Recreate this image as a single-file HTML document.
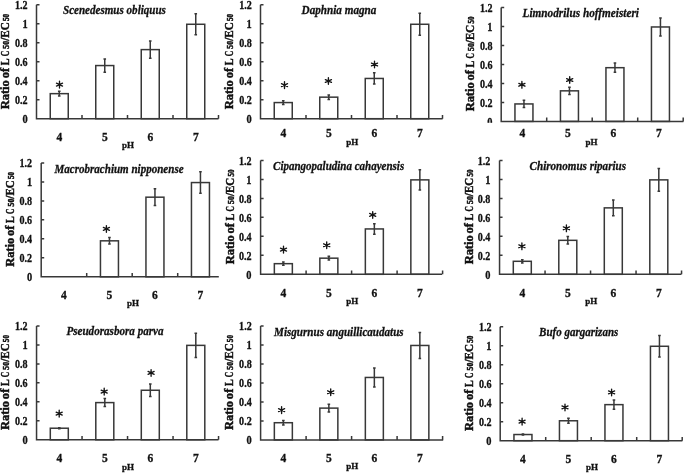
<!DOCTYPE html>
<html><head><meta charset="utf-8"><style>
html,body{margin:0;padding:0;background:#fff;overflow:hidden;}
svg{display:block;}
svg{will-change:transform;}
text{font-family:"Liberation Serif",serif;font-weight:bold;fill:#111;stroke:#111;stroke-width:0.3px;}
.tl{font-size:11.8px;}
.cl{font-size:11.5px;}
.ph{font-size:9px;}
.tt{font-size:12.5px;font-style:italic;}
.yl{font-size:11.5px;stroke-width:0.45px;}
.sub{font-size:7.2px;stroke-width:0.45px;}
</style></head><body>
<svg width="685" height="474" viewBox="0 0 685 474">
<rect width="685" height="474" fill="#fff"/>
<text x="22.40" y="123.10" class="tl" textLength="5.2" lengthAdjust="spacingAndGlyphs">0</text><text x="15.00" y="104.12" class="tl" textLength="12.6" lengthAdjust="spacingAndGlyphs">0.2</text><text x="15.00" y="85.14" class="tl" textLength="12.6" lengthAdjust="spacingAndGlyphs">0.4</text><text x="15.00" y="66.16" class="tl" textLength="12.6" lengthAdjust="spacingAndGlyphs">0.6</text><text x="15.00" y="47.18" class="tl" textLength="12.6" lengthAdjust="spacingAndGlyphs">0.8</text><text x="22.40" y="28.20" class="tl" textLength="5.2" lengthAdjust="spacingAndGlyphs">1</text><text x="15.00" y="9.22" class="tl" textLength="12.6" lengthAdjust="spacingAndGlyphs">1.2</text><rect x="50.25" y="93.65" width="18.0" height="25.05" fill="#fff" stroke="#383838" stroke-width="1.5"/><path d="M59.25 91.27L59.25 96.02M57.95 91.27L60.55 91.27M57.95 96.02L60.55 96.02" stroke="#383838" stroke-width="1.5" fill="none"/><rect x="95.75" y="65.56" width="18.0" height="53.14" fill="#fff" stroke="#383838" stroke-width="1.5"/><path d="M104.75 58.91L104.75 72.20M103.45 58.91L106.05 58.91M103.45 72.20L106.05 72.20" stroke="#383838" stroke-width="1.5" fill="none"/><rect x="141.25" y="49.61" width="18.0" height="69.09" fill="#fff" stroke="#383838" stroke-width="1.5"/><path d="M150.25 41.07L150.25 58.15M148.95 41.07L151.55 41.07M148.95 58.15L151.55 58.15" stroke="#383838" stroke-width="1.5" fill="none"/><rect x="186.75" y="24.27" width="18.0" height="94.43" fill="#fff" stroke="#383838" stroke-width="1.5"/><path d="M195.75 13.84L195.75 34.71M194.45 13.84L197.05 13.84M194.45 34.71L197.05 34.71" stroke="#383838" stroke-width="1.5" fill="none"/><path d="M59.50 81.25L59.50 87.95M56.46 83.18L62.54 86.02M56.46 86.02L62.54 83.18" stroke="#151515" stroke-width="1.35" fill="none" stroke-linecap="round"/><circle cx="59.5" cy="84.6" r="1.2" fill="#151515"/><path d="M36.5 4.82L36.5 118.7L218.5 118.7M36.5 99.72L39.5 99.72M36.5 80.74L39.5 80.74M36.5 61.76L39.5 61.76M36.5 42.78L39.5 42.78M36.5 23.80L39.5 23.80M36.5 4.82L39.5 4.82M82.00 118.7L82.00 114.9M127.50 118.7L127.50 114.9M173.00 118.7L173.00 114.9M218.50 118.7L218.50 114.9" stroke="#383838" stroke-width="1.5" fill="none"/><text x="59.25" y="140.5" class="cl" text-anchor="middle">4</text><text x="104.75" y="140.5" class="cl" text-anchor="middle">5</text><text x="150.25" y="140.5" class="cl" text-anchor="middle">6</text><text x="195.75" y="140.5" class="cl" text-anchor="middle">7</text><text x="122" y="147.5" class="ph" textLength="12" lengthAdjust="spacingAndGlyphs">pH</text><text x="63" y="14.3" class="tt" textLength="102.9" lengthAdjust="spacingAndGlyphs">Scenedesmus obliquus</text><g transform="translate(9 109.30) rotate(-90)"><text x="0.00" y="0" class="yl" textLength="29.06" lengthAdjust="spacingAndGlyphs">Ratio</text><text x="30.96" y="0" class="yl" textLength="10.52" lengthAdjust="spacingAndGlyphs">of</text><text x="44.09" y="0" class="yl" textLength="6.81" lengthAdjust="spacingAndGlyphs">L</text><text x="53.01" y="0" class="yl" textLength="5.51" lengthAdjust="spacingAndGlyphs">C</text><text x="60.63" y="0" class="sub" textLength="7.82" lengthAdjust="spacingAndGlyphs">50</text><text x="68.54" y="0" class="yl" textLength="18.54" lengthAdjust="spacingAndGlyphs">/EC</text><text x="88.28" y="0" class="sub" textLength="7.22" lengthAdjust="spacingAndGlyphs">50</text></g><text x="246.60" y="123.10" class="tl" textLength="5.2" lengthAdjust="spacingAndGlyphs">0</text><text x="239.20" y="104.12" class="tl" textLength="12.6" lengthAdjust="spacingAndGlyphs">0.2</text><text x="239.20" y="85.14" class="tl" textLength="12.6" lengthAdjust="spacingAndGlyphs">0.4</text><text x="239.20" y="66.16" class="tl" textLength="12.6" lengthAdjust="spacingAndGlyphs">0.6</text><text x="239.20" y="47.18" class="tl" textLength="12.6" lengthAdjust="spacingAndGlyphs">0.8</text><text x="246.60" y="28.20" class="tl" textLength="5.2" lengthAdjust="spacingAndGlyphs">1</text><text x="239.20" y="9.22" class="tl" textLength="12.6" lengthAdjust="spacingAndGlyphs">1.2</text><rect x="274.25" y="102.57" width="18.0" height="16.13" fill="#fff" stroke="#383838" stroke-width="1.5"/><path d="M283.25 100.67L283.25 104.47M281.95 100.67L284.55 100.67M281.95 104.47L284.55 104.47" stroke="#383838" stroke-width="1.5" fill="none"/><rect x="319.75" y="97.16" width="18.0" height="21.54" fill="#fff" stroke="#383838" stroke-width="1.5"/><path d="M328.75 94.88L328.75 99.44M327.45 94.88L330.05 94.88M327.45 99.44L330.05 99.44" stroke="#383838" stroke-width="1.5" fill="none"/><rect x="365.25" y="78.46" width="18.0" height="40.24" fill="#fff" stroke="#383838" stroke-width="1.5"/><path d="M374.25 72.86L374.25 84.06M372.95 72.86L375.55 72.86M372.95 84.06L375.55 84.06" stroke="#383838" stroke-width="1.5" fill="none"/><rect x="410.75" y="24.27" width="18.0" height="94.43" fill="#fff" stroke="#383838" stroke-width="1.5"/><path d="M419.75 13.36L419.75 35.19M418.45 13.36L421.05 13.36M418.45 35.19L421.05 35.19" stroke="#383838" stroke-width="1.5" fill="none"/><path d="M284.50 81.75L284.50 88.45M281.46 83.68L287.54 86.52M281.46 86.52L287.54 83.68" stroke="#151515" stroke-width="1.35" fill="none" stroke-linecap="round"/><circle cx="284.5" cy="85.1" r="1.2" fill="#151515"/><path d="M328.40 77.65L328.40 84.35M325.36 79.58L331.44 82.42M325.36 82.42L331.44 79.58" stroke="#151515" stroke-width="1.35" fill="none" stroke-linecap="round"/><circle cx="328.4" cy="81.0" r="1.2" fill="#151515"/><path d="M374.50 61.15L374.50 67.85M371.46 63.08L377.54 65.92M371.46 65.92L377.54 63.08" stroke="#151515" stroke-width="1.35" fill="none" stroke-linecap="round"/><circle cx="374.5" cy="64.5" r="1.2" fill="#151515"/><path d="M260.5 4.82L260.5 118.7L442.6 118.7M260.5 99.72L263.5 99.72M260.5 80.74L263.5 80.74M260.5 61.76L263.5 61.76M260.5 42.78L263.5 42.78M260.5 23.80L263.5 23.80M260.5 4.82L263.5 4.82M306.00 118.7L306.00 114.9M351.50 118.7L351.50 114.9M397.00 118.7L397.00 114.9M442.50 118.7L442.50 114.9" stroke="#383838" stroke-width="1.5" fill="none"/><text x="283.25" y="137" class="cl" text-anchor="middle">4</text><text x="328.75" y="137" class="cl" text-anchor="middle">5</text><text x="374.25" y="137" class="cl" text-anchor="middle">6</text><text x="419.75" y="137" class="cl" text-anchor="middle">7</text><text x="346.2" y="145.4" class="ph" textLength="12" lengthAdjust="spacingAndGlyphs">pH</text><text x="301.6" y="14.3" class="tt" textLength="74.8" lengthAdjust="spacingAndGlyphs">Daphnia magna</text><g transform="translate(233 109.30) rotate(-90)"><text x="0.00" y="0" class="yl" textLength="29.06" lengthAdjust="spacingAndGlyphs">Ratio</text><text x="30.96" y="0" class="yl" textLength="10.52" lengthAdjust="spacingAndGlyphs">of</text><text x="44.09" y="0" class="yl" textLength="6.81" lengthAdjust="spacingAndGlyphs">L</text><text x="53.01" y="0" class="yl" textLength="5.51" lengthAdjust="spacingAndGlyphs">C</text><text x="60.63" y="0" class="sub" textLength="7.82" lengthAdjust="spacingAndGlyphs">50</text><text x="68.54" y="0" class="yl" textLength="18.54" lengthAdjust="spacingAndGlyphs">/EC</text><text x="88.28" y="0" class="sub" textLength="7.22" lengthAdjust="spacingAndGlyphs">50</text></g><text x="487.30" y="125.80" class="tl" textLength="5.2" lengthAdjust="spacingAndGlyphs">0</text><text x="479.90" y="106.82" class="tl" textLength="12.6" lengthAdjust="spacingAndGlyphs">0.2</text><text x="479.90" y="87.84" class="tl" textLength="12.6" lengthAdjust="spacingAndGlyphs">0.4</text><text x="479.90" y="68.86" class="tl" textLength="12.6" lengthAdjust="spacingAndGlyphs">0.6</text><text x="479.90" y="49.88" class="tl" textLength="12.6" lengthAdjust="spacingAndGlyphs">0.8</text><text x="487.30" y="30.90" class="tl" textLength="5.2" lengthAdjust="spacingAndGlyphs">1</text><text x="479.90" y="11.92" class="tl" textLength="12.6" lengthAdjust="spacingAndGlyphs">1.2</text><rect x="514.95" y="103.94" width="18.0" height="17.46" fill="#fff" stroke="#383838" stroke-width="1.5"/><path d="M523.95 100.33L523.95 107.54M522.65 100.33L525.25 100.33M522.65 107.54L525.25 107.54" stroke="#383838" stroke-width="1.5" fill="none"/><rect x="560.45" y="90.84" width="18.0" height="30.56" fill="#fff" stroke="#383838" stroke-width="1.5"/><path d="M569.45 87.14L569.45 94.54M568.15 87.14L570.75 87.14M568.15 94.54L570.75 94.54" stroke="#383838" stroke-width="1.5" fill="none"/><rect x="605.95" y="67.69" width="18.0" height="53.71" fill="#fff" stroke="#383838" stroke-width="1.5"/><path d="M614.95 63.04L614.95 72.34M613.65 63.04L616.25 63.04M613.65 72.34L616.25 72.34" stroke="#383838" stroke-width="1.5" fill="none"/><rect x="651.45" y="26.97" width="18.0" height="94.43" fill="#fff" stroke="#383838" stroke-width="1.5"/><path d="M660.45 18.05L660.45 35.90M659.15 18.05L661.75 18.05M659.15 35.90L661.75 35.90" stroke="#383838" stroke-width="1.5" fill="none"/><path d="M521.90 81.45L521.90 88.15M518.86 83.38L524.94 86.22M518.86 86.22L524.94 83.38" stroke="#151515" stroke-width="1.35" fill="none" stroke-linecap="round"/><circle cx="521.9" cy="84.8" r="1.2" fill="#151515"/><path d="M569.70 76.65L569.70 83.35M566.66 78.58L572.74 81.42M566.66 81.42L572.74 78.58" stroke="#151515" stroke-width="1.35" fill="none" stroke-linecap="round"/><circle cx="569.7" cy="80.0" r="1.2" fill="#151515"/><path d="M501.2 7.52L501.2 121.4L683.4 121.4M501.2 102.42L504.2 102.42M501.2 83.44L504.2 83.44M501.2 64.46L504.2 64.46M501.2 45.48L504.2 45.48M501.2 26.50L504.2 26.50M501.2 7.52L504.2 7.52M546.70 121.4L546.70 117.60000000000001M592.20 121.4L592.20 117.60000000000001M637.70 121.4L637.70 117.60000000000001M683.20 121.4L683.20 117.60000000000001" stroke="#383838" stroke-width="1.5" fill="none"/><text x="522.45" y="137" class="cl" text-anchor="middle">4</text><text x="567.95" y="137" class="cl" text-anchor="middle">5</text><text x="613.45" y="137" class="cl" text-anchor="middle">6</text><text x="658.95" y="137" class="cl" text-anchor="middle">7</text><text x="585.4" y="144.8" class="ph" textLength="12" lengthAdjust="spacingAndGlyphs">pH</text><text x="522.6" y="17.0" class="tt" textLength="116.4" lengthAdjust="spacingAndGlyphs">Limnodrilus hoffmeisteri</text><g transform="translate(474 111.30) rotate(-90)"><text x="0.00" y="0" class="yl" textLength="28.91" lengthAdjust="spacingAndGlyphs">Ratio</text><text x="30.80" y="0" class="yl" textLength="10.47" lengthAdjust="spacingAndGlyphs">of</text><text x="43.86" y="0" class="yl" textLength="6.78" lengthAdjust="spacingAndGlyphs">L</text><text x="52.73" y="0" class="yl" textLength="5.48" lengthAdjust="spacingAndGlyphs">C</text><text x="60.31" y="0" class="sub" textLength="7.78" lengthAdjust="spacingAndGlyphs">50</text><text x="68.18" y="0" class="yl" textLength="18.44" lengthAdjust="spacingAndGlyphs">/EC</text><text x="87.82" y="0" class="sub" textLength="7.18" lengthAdjust="spacingAndGlyphs">50</text></g><rect x="478" y="122.8" width="21" height="6" fill="#fff"/><text x="26.90" y="281.20" class="tl" textLength="5.2" lengthAdjust="spacingAndGlyphs">0</text><text x="19.50" y="262.22" class="tl" textLength="12.6" lengthAdjust="spacingAndGlyphs">0.2</text><text x="19.50" y="243.24" class="tl" textLength="12.6" lengthAdjust="spacingAndGlyphs">0.4</text><text x="19.50" y="224.26" class="tl" textLength="12.6" lengthAdjust="spacingAndGlyphs">0.6</text><text x="19.50" y="205.28" class="tl" textLength="12.6" lengthAdjust="spacingAndGlyphs">0.8</text><text x="26.90" y="186.30" class="tl" textLength="5.2" lengthAdjust="spacingAndGlyphs">1</text><text x="19.50" y="167.32" class="tl" textLength="12.6" lengthAdjust="spacingAndGlyphs">1.2</text><rect x="100.45" y="240.83" width="18.0" height="35.97" fill="#fff" stroke="#383838" stroke-width="1.5"/><path d="M109.45 237.61L109.45 244.06M108.15 237.61L110.75 237.61M108.15 244.06L110.75 244.06" stroke="#383838" stroke-width="1.5" fill="none"/><rect x="145.95" y="197.18" width="18.0" height="79.62" fill="#fff" stroke="#383838" stroke-width="1.5"/><path d="M154.95 188.83L154.95 205.53M153.65 188.83L156.25 188.83M153.65 205.53L156.25 205.53" stroke="#383838" stroke-width="1.5" fill="none"/><rect x="191.45" y="182.56" width="18.0" height="94.24" fill="#fff" stroke="#383838" stroke-width="1.5"/><path d="M200.45 171.84L200.45 193.29M199.15 171.84L201.75 171.84M199.15 193.29L201.75 193.29" stroke="#383838" stroke-width="1.5" fill="none"/><path d="M106.40 225.55L106.40 232.25M103.36 227.48L109.44 230.32M103.36 230.32L109.44 227.48" stroke="#151515" stroke-width="1.35" fill="none" stroke-linecap="round"/><circle cx="106.4" cy="228.9" r="1.2" fill="#151515"/><path d="M41.2 162.92L41.2 276.8L218.8 276.8M41.2 257.82L44.2 257.82M41.2 238.84L44.2 238.84M41.2 219.86L44.2 219.86M41.2 200.88L44.2 200.88M41.2 181.90L44.2 181.90M41.2 162.92L44.2 162.92M86.70 276.8L86.70 273.0M132.20 276.8L132.20 273.0M177.70 276.8L177.70 273.0" stroke="#383838" stroke-width="1.5" fill="none"/><text x="63.95" y="298.6" class="cl" text-anchor="middle">4</text><text x="109.45" y="298.6" class="cl" text-anchor="middle">5</text><text x="154.95" y="298.6" class="cl" text-anchor="middle">6</text><text x="200.45" y="298.6" class="cl" text-anchor="middle">7</text><text x="126.9" y="306" class="ph" textLength="12" lengthAdjust="spacingAndGlyphs">pH</text><text x="54.5" y="172.8" class="tt" textLength="129.1" lengthAdjust="spacingAndGlyphs">Macrobrachium nipponense</text><g transform="translate(13.8 266.80) rotate(-90)"><text x="0.00" y="0" class="yl" textLength="28.91" lengthAdjust="spacingAndGlyphs">Ratio</text><text x="30.80" y="0" class="yl" textLength="10.47" lengthAdjust="spacingAndGlyphs">of</text><text x="43.86" y="0" class="yl" textLength="6.78" lengthAdjust="spacingAndGlyphs">L</text><text x="52.73" y="0" class="yl" textLength="5.48" lengthAdjust="spacingAndGlyphs">C</text><text x="60.31" y="0" class="sub" textLength="7.78" lengthAdjust="spacingAndGlyphs">50</text><text x="68.18" y="0" class="yl" textLength="18.44" lengthAdjust="spacingAndGlyphs">/EC</text><text x="87.82" y="0" class="sub" textLength="7.18" lengthAdjust="spacingAndGlyphs">50</text></g><text x="246.30" y="278.70" class="tl" textLength="5.2" lengthAdjust="spacingAndGlyphs">0</text><text x="238.90" y="259.72" class="tl" textLength="12.6" lengthAdjust="spacingAndGlyphs">0.2</text><text x="238.90" y="240.74" class="tl" textLength="12.6" lengthAdjust="spacingAndGlyphs">0.4</text><text x="238.90" y="221.76" class="tl" textLength="12.6" lengthAdjust="spacingAndGlyphs">0.6</text><text x="238.90" y="202.78" class="tl" textLength="12.6" lengthAdjust="spacingAndGlyphs">0.8</text><text x="246.30" y="183.80" class="tl" textLength="5.2" lengthAdjust="spacingAndGlyphs">1</text><text x="238.90" y="164.82" class="tl" textLength="12.6" lengthAdjust="spacingAndGlyphs">1.2</text><rect x="274.35" y="263.67" width="18.0" height="10.63" fill="#fff" stroke="#383838" stroke-width="1.5"/><path d="M283.35 262.06L283.35 265.28M282.05 262.06L284.65 262.06M282.05 265.28L284.65 265.28" stroke="#383838" stroke-width="1.5" fill="none"/><rect x="319.85" y="258.17" width="18.0" height="16.13" fill="#fff" stroke="#383838" stroke-width="1.5"/><path d="M328.85 256.36L328.85 259.97M327.55 256.36L330.15 256.36M327.55 259.97L330.15 259.97" stroke="#383838" stroke-width="1.5" fill="none"/><rect x="365.35" y="228.94" width="18.0" height="45.36" fill="#fff" stroke="#383838" stroke-width="1.5"/><path d="M374.35 223.72L374.35 234.16M373.05 223.72L375.65 223.72M373.05 234.16L375.65 234.16" stroke="#383838" stroke-width="1.5" fill="none"/><rect x="410.85" y="179.87" width="18.0" height="94.43" fill="#fff" stroke="#383838" stroke-width="1.5"/><path d="M419.85 169.63L419.85 190.12M418.55 169.63L421.15 169.63M418.55 190.12L421.15 190.12" stroke="#383838" stroke-width="1.5" fill="none"/><path d="M283.50 246.25L283.50 252.95M280.46 248.18L286.54 251.02M280.46 251.02L286.54 248.18" stroke="#151515" stroke-width="1.35" fill="none" stroke-linecap="round"/><circle cx="283.5" cy="249.6" r="1.2" fill="#151515"/><path d="M326.70 241.85L326.70 248.55M323.66 243.78L329.74 246.62M323.66 246.62L329.74 243.78" stroke="#151515" stroke-width="1.35" fill="none" stroke-linecap="round"/><circle cx="326.7" cy="245.2" r="1.2" fill="#151515"/><path d="M372.70 211.55L372.70 218.25M369.66 213.48L375.74 216.32M369.66 216.32L375.74 213.48" stroke="#151515" stroke-width="1.35" fill="none" stroke-linecap="round"/><circle cx="372.7" cy="214.9" r="1.2" fill="#151515"/><path d="M260.6 160.42L260.6 274.3L442.1 274.3M260.6 255.32L263.6 255.32M260.6 236.34L263.6 236.34M260.6 217.36L263.6 217.36M260.6 198.38L263.6 198.38M260.6 179.40L263.6 179.40M260.6 160.42L263.6 160.42M306.10 274.3L306.10 270.5M351.60 274.3L351.60 270.5M397.10 274.3L397.10 270.5M442.60 274.3L442.60 270.5" stroke="#383838" stroke-width="1.5" fill="none"/><text x="283.35" y="296.6" class="cl" text-anchor="middle">4</text><text x="328.85" y="296.6" class="cl" text-anchor="middle">5</text><text x="374.35" y="296.6" class="cl" text-anchor="middle">6</text><text x="419.85" y="296.6" class="cl" text-anchor="middle">7</text><text x="346.2" y="303.7" class="ph" textLength="12" lengthAdjust="spacingAndGlyphs">pH</text><text x="273.1" y="169.7" class="tt" textLength="131.1" lengthAdjust="spacingAndGlyphs">Cipangopaludina cahayensis</text><g transform="translate(233.5 264.20) rotate(-90)"><text x="0.00" y="0" class="yl" textLength="28.88" lengthAdjust="spacingAndGlyphs">Ratio</text><text x="30.77" y="0" class="yl" textLength="10.46" lengthAdjust="spacingAndGlyphs">of</text><text x="43.82" y="0" class="yl" textLength="6.77" lengthAdjust="spacingAndGlyphs">L</text><text x="52.68" y="0" class="yl" textLength="5.48" lengthAdjust="spacingAndGlyphs">C</text><text x="60.25" y="0" class="sub" textLength="7.77" lengthAdjust="spacingAndGlyphs">50</text><text x="68.11" y="0" class="yl" textLength="18.42" lengthAdjust="spacingAndGlyphs">/EC</text><text x="87.73" y="0" class="sub" textLength="7.17" lengthAdjust="spacingAndGlyphs">50</text></g><text x="485.20" y="278.70" class="tl" textLength="5.2" lengthAdjust="spacingAndGlyphs">0</text><text x="477.80" y="259.72" class="tl" textLength="12.6" lengthAdjust="spacingAndGlyphs">0.2</text><text x="477.80" y="240.74" class="tl" textLength="12.6" lengthAdjust="spacingAndGlyphs">0.4</text><text x="477.80" y="221.76" class="tl" textLength="12.6" lengthAdjust="spacingAndGlyphs">0.6</text><text x="477.80" y="202.78" class="tl" textLength="12.6" lengthAdjust="spacingAndGlyphs">0.8</text><text x="485.20" y="183.80" class="tl" textLength="5.2" lengthAdjust="spacingAndGlyphs">1</text><text x="477.80" y="164.82" class="tl" textLength="12.6" lengthAdjust="spacingAndGlyphs">1.2</text><rect x="513.30" y="261.30" width="18.0" height="13.00" fill="#fff" stroke="#383838" stroke-width="1.5"/><path d="M522.30 259.69L522.30 262.91M521.00 259.69L523.60 259.69M521.00 262.91L523.60 262.91" stroke="#383838" stroke-width="1.5" fill="none"/><rect x="558.80" y="240.33" width="18.0" height="33.97" fill="#fff" stroke="#383838" stroke-width="1.5"/><path d="M567.80 236.62L567.80 244.03M566.50 236.62L569.10 236.62M566.50 244.03L569.10 244.03" stroke="#383838" stroke-width="1.5" fill="none"/><rect x="604.30" y="207.87" width="18.0" height="66.43" fill="#fff" stroke="#383838" stroke-width="1.5"/><path d="M613.30 199.99L613.30 215.75M612.00 199.99L614.60 199.99M612.00 215.75L614.60 215.75" stroke="#383838" stroke-width="1.5" fill="none"/><rect x="649.80" y="179.87" width="18.0" height="94.43" fill="#fff" stroke="#383838" stroke-width="1.5"/><path d="M658.80 168.49L658.80 191.26M657.50 168.49L660.10 168.49M657.50 191.26L660.10 191.26" stroke="#383838" stroke-width="1.5" fill="none"/><path d="M521.90 242.95L521.90 249.65M518.86 244.88L524.94 247.72M518.86 247.72L524.94 244.88" stroke="#151515" stroke-width="1.35" fill="none" stroke-linecap="round"/><circle cx="521.9" cy="246.3" r="1.2" fill="#151515"/><path d="M566.40 224.95L566.40 231.65M563.36 226.88L569.44 229.72M563.36 229.72L569.44 226.88" stroke="#151515" stroke-width="1.35" fill="none" stroke-linecap="round"/><circle cx="566.4" cy="228.3" r="1.2" fill="#151515"/><path d="M499.55 160.42L499.55 274.3L681.4 274.3M499.55 255.32L502.55 255.32M499.55 236.34L502.55 236.34M499.55 217.36L502.55 217.36M499.55 198.38L502.55 198.38M499.55 179.40L502.55 179.40M499.55 160.42L502.55 160.42M545.05 274.3L545.05 270.5M590.55 274.3L590.55 270.5M636.05 274.3L636.05 270.5M681.55 274.3L681.55 270.5" stroke="#383838" stroke-width="1.5" fill="none"/><text x="522.30" y="296.5" class="cl" text-anchor="middle">4</text><text x="567.80" y="296.5" class="cl" text-anchor="middle">5</text><text x="613.30" y="296.5" class="cl" text-anchor="middle">6</text><text x="658.80" y="296.5" class="cl" text-anchor="middle">7</text><text x="585.2" y="303.8" class="ph" textLength="12" lengthAdjust="spacingAndGlyphs">pH</text><text x="529.6" y="169.7" class="tt" textLength="96.4" lengthAdjust="spacingAndGlyphs">Chironomus riparius</text><g transform="translate(472.5 264.30) rotate(-90)"><text x="0.00" y="0" class="yl" textLength="28.91" lengthAdjust="spacingAndGlyphs">Ratio</text><text x="30.80" y="0" class="yl" textLength="10.47" lengthAdjust="spacingAndGlyphs">of</text><text x="43.86" y="0" class="yl" textLength="6.78" lengthAdjust="spacingAndGlyphs">L</text><text x="52.73" y="0" class="yl" textLength="5.48" lengthAdjust="spacingAndGlyphs">C</text><text x="60.31" y="0" class="sub" textLength="7.78" lengthAdjust="spacingAndGlyphs">50</text><text x="68.18" y="0" class="yl" textLength="18.44" lengthAdjust="spacingAndGlyphs">/EC</text><text x="87.82" y="0" class="sub" textLength="7.18" lengthAdjust="spacingAndGlyphs">50</text></g><text x="22.40" y="444.20" class="tl" textLength="5.2" lengthAdjust="spacingAndGlyphs">0</text><text x="15.00" y="425.22" class="tl" textLength="12.6" lengthAdjust="spacingAndGlyphs">0.2</text><text x="15.00" y="406.24" class="tl" textLength="12.6" lengthAdjust="spacingAndGlyphs">0.4</text><text x="15.00" y="387.26" class="tl" textLength="12.6" lengthAdjust="spacingAndGlyphs">0.6</text><text x="15.00" y="368.28" class="tl" textLength="12.6" lengthAdjust="spacingAndGlyphs">0.8</text><text x="22.40" y="349.30" class="tl" textLength="5.2" lengthAdjust="spacingAndGlyphs">1</text><text x="15.00" y="330.32" class="tl" textLength="12.6" lengthAdjust="spacingAndGlyphs">1.2</text><rect x="50.30" y="428.22" width="18.0" height="11.58" fill="#fff" stroke="#383838" stroke-width="1.5"/><path d="M59.30 427.65L59.30 428.79M58.00 427.65L60.60 427.65M58.00 428.79L60.60 428.79" stroke="#383838" stroke-width="1.5" fill="none"/><rect x="95.80" y="402.60" width="18.0" height="37.20" fill="#fff" stroke="#383838" stroke-width="1.5"/><path d="M104.80 398.61L104.80 406.59M103.50 398.61L106.10 398.61M103.50 406.59L106.10 406.59" stroke="#383838" stroke-width="1.5" fill="none"/><rect x="141.30" y="390.26" width="18.0" height="49.54" fill="#fff" stroke="#383838" stroke-width="1.5"/><path d="M150.30 384.09L150.30 396.43M149.00 384.09L151.60 384.09M149.00 396.43L151.60 396.43" stroke="#383838" stroke-width="1.5" fill="none"/><rect x="186.80" y="345.37" width="18.0" height="94.43" fill="#fff" stroke="#383838" stroke-width="1.5"/><path d="M195.80 333.23L195.80 357.52M194.50 333.23L197.10 333.23M194.50 357.52L197.10 357.52" stroke="#383838" stroke-width="1.5" fill="none"/><path d="M59.20 410.25L59.20 416.95M56.16 412.18L62.24 415.02M56.16 415.02L62.24 412.18" stroke="#151515" stroke-width="1.35" fill="none" stroke-linecap="round"/><circle cx="59.2" cy="413.6" r="1.2" fill="#151515"/><path d="M104.20 388.25L104.20 394.95M101.16 390.18L107.24 393.02M101.16 393.02L107.24 390.18" stroke="#151515" stroke-width="1.35" fill="none" stroke-linecap="round"/><circle cx="104.2" cy="391.6" r="1.2" fill="#151515"/><path d="M151.10 369.55L151.10 376.25M148.06 371.48L154.14 374.32M148.06 374.32L154.14 371.48" stroke="#151515" stroke-width="1.35" fill="none" stroke-linecap="round"/><circle cx="151.1" cy="372.9" r="1.2" fill="#151515"/><path d="M36.55 325.92L36.55 439.8L218.5 439.8M36.55 420.82L39.55 420.82M36.55 401.84L39.55 401.84M36.55 382.86L39.55 382.86M36.55 363.88L39.55 363.88M36.55 344.90L39.55 344.90M36.55 325.92L39.55 325.92M82.05 439.8L82.05 436.0M127.55 439.8L127.55 436.0M173.05 439.8L173.05 436.0M218.55 439.8L218.55 436.0" stroke="#383838" stroke-width="1.5" fill="none"/><text x="59.30" y="462" class="cl" text-anchor="middle">4</text><text x="104.80" y="462" class="cl" text-anchor="middle">5</text><text x="150.30" y="462" class="cl" text-anchor="middle">6</text><text x="195.80" y="462" class="cl" text-anchor="middle">7</text><text x="122" y="469.5" class="ph" textLength="12" lengthAdjust="spacingAndGlyphs">pH</text><text x="66.4" y="335.4" class="tt" textLength="97.2" lengthAdjust="spacingAndGlyphs">Pseudorasbora parva</text><g transform="translate(9.2 429.90) rotate(-90)"><text x="0.00" y="0" class="yl" textLength="28.88" lengthAdjust="spacingAndGlyphs">Ratio</text><text x="30.77" y="0" class="yl" textLength="10.46" lengthAdjust="spacingAndGlyphs">of</text><text x="43.82" y="0" class="yl" textLength="6.77" lengthAdjust="spacingAndGlyphs">L</text><text x="52.68" y="0" class="yl" textLength="5.48" lengthAdjust="spacingAndGlyphs">C</text><text x="60.25" y="0" class="sub" textLength="7.77" lengthAdjust="spacingAndGlyphs">50</text><text x="68.11" y="0" class="yl" textLength="18.42" lengthAdjust="spacingAndGlyphs">/EC</text><text x="87.73" y="0" class="sub" textLength="7.17" lengthAdjust="spacingAndGlyphs">50</text></g><text x="246.50" y="444.30" class="tl" textLength="5.2" lengthAdjust="spacingAndGlyphs">0</text><text x="239.10" y="425.32" class="tl" textLength="12.6" lengthAdjust="spacingAndGlyphs">0.2</text><text x="239.10" y="406.34" class="tl" textLength="12.6" lengthAdjust="spacingAndGlyphs">0.4</text><text x="239.10" y="387.36" class="tl" textLength="12.6" lengthAdjust="spacingAndGlyphs">0.6</text><text x="239.10" y="368.38" class="tl" textLength="12.6" lengthAdjust="spacingAndGlyphs">0.8</text><text x="246.50" y="349.40" class="tl" textLength="5.2" lengthAdjust="spacingAndGlyphs">1</text><text x="239.10" y="330.42" class="tl" textLength="12.6" lengthAdjust="spacingAndGlyphs">1.2</text><rect x="274.35" y="422.72" width="18.0" height="17.18" fill="#fff" stroke="#383838" stroke-width="1.5"/><path d="M283.35 420.54L283.35 424.91M282.05 420.54L284.65 420.54M282.05 424.91L284.65 424.91" stroke="#383838" stroke-width="1.5" fill="none"/><rect x="319.85" y="408.11" width="18.0" height="31.79" fill="#fff" stroke="#383838" stroke-width="1.5"/><path d="M328.85 404.31L328.85 411.90M327.55 404.31L330.15 404.31M327.55 411.90L330.15 411.90" stroke="#383838" stroke-width="1.5" fill="none"/><rect x="365.35" y="377.46" width="18.0" height="62.44" fill="#fff" stroke="#383838" stroke-width="1.5"/><path d="M374.35 367.97L374.35 386.95M373.05 367.97L375.65 367.97M373.05 386.95L375.65 386.95" stroke="#383838" stroke-width="1.5" fill="none"/><rect x="410.85" y="345.47" width="18.0" height="94.43" fill="#fff" stroke="#383838" stroke-width="1.5"/><path d="M419.85 332.47L419.85 358.48M418.55 332.47L421.15 332.47M418.55 358.48L421.15 358.48" stroke="#383838" stroke-width="1.5" fill="none"/><path d="M281.60 406.75L281.60 413.45M278.56 408.68L284.64 411.52M278.56 411.52L284.64 408.68" stroke="#151515" stroke-width="1.35" fill="none" stroke-linecap="round"/><circle cx="281.6" cy="410.1" r="1.2" fill="#151515"/><path d="M330.70 388.85L330.70 395.55M327.66 390.78L333.74 393.62M327.66 393.62L333.74 390.78" stroke="#151515" stroke-width="1.35" fill="none" stroke-linecap="round"/><circle cx="330.7" cy="392.2" r="1.2" fill="#151515"/><path d="M260.6 326.02L260.6 439.9L443.2 439.9M260.6 420.92L263.6 420.92M260.6 401.94L263.6 401.94M260.6 382.96L263.6 382.96M260.6 363.98L263.6 363.98M260.6 345.00L263.6 345.00M260.6 326.02L263.6 326.02M306.10 439.9L306.10 436.09999999999997M351.60 439.9L351.60 436.09999999999997M397.10 439.9L397.10 436.09999999999997M442.60 439.9L442.60 436.09999999999997" stroke="#383838" stroke-width="1.5" fill="none"/><text x="283.35" y="462" class="cl" text-anchor="middle">4</text><text x="328.85" y="462" class="cl" text-anchor="middle">5</text><text x="374.35" y="462" class="cl" text-anchor="middle">6</text><text x="419.85" y="462" class="cl" text-anchor="middle">7</text><text x="346.2" y="469.3" class="ph" textLength="12" lengthAdjust="spacingAndGlyphs">pH</text><text x="274.1" y="335.8" class="tt" textLength="129.5" lengthAdjust="spacingAndGlyphs">Misgurnus anguillicaudatus</text><g transform="translate(233.2 429.90) rotate(-90)"><text x="0.00" y="0" class="yl" textLength="28.88" lengthAdjust="spacingAndGlyphs">Ratio</text><text x="30.77" y="0" class="yl" textLength="10.46" lengthAdjust="spacingAndGlyphs">of</text><text x="43.82" y="0" class="yl" textLength="6.77" lengthAdjust="spacingAndGlyphs">L</text><text x="52.68" y="0" class="yl" textLength="5.48" lengthAdjust="spacingAndGlyphs">C</text><text x="60.25" y="0" class="sub" textLength="7.77" lengthAdjust="spacingAndGlyphs">50</text><text x="68.11" y="0" class="yl" textLength="18.42" lengthAdjust="spacingAndGlyphs">/EC</text><text x="87.73" y="0" class="sub" textLength="7.17" lengthAdjust="spacingAndGlyphs">50</text></g><text x="486.30" y="445.10" class="tl" textLength="5.2" lengthAdjust="spacingAndGlyphs">0</text><text x="478.90" y="426.12" class="tl" textLength="12.6" lengthAdjust="spacingAndGlyphs">0.2</text><text x="478.90" y="407.14" class="tl" textLength="12.6" lengthAdjust="spacingAndGlyphs">0.4</text><text x="478.90" y="388.16" class="tl" textLength="12.6" lengthAdjust="spacingAndGlyphs">0.6</text><text x="478.90" y="369.18" class="tl" textLength="12.6" lengthAdjust="spacingAndGlyphs">0.8</text><text x="486.30" y="350.20" class="tl" textLength="5.2" lengthAdjust="spacingAndGlyphs">1</text><text x="478.90" y="331.22" class="tl" textLength="12.6" lengthAdjust="spacingAndGlyphs">1.2</text><rect x="513.95" y="434.53" width="18.0" height="6.17" fill="#fff" stroke="#383838" stroke-width="1.5"/><path d="M522.95 433.96L522.95 435.10M521.65 433.96L524.25 433.96M521.65 435.10L524.25 435.10" stroke="#383838" stroke-width="1.5" fill="none"/><rect x="559.45" y="420.77" width="18.0" height="19.93" fill="#fff" stroke="#383838" stroke-width="1.5"/><path d="M568.45 418.30L568.45 423.24M567.15 418.30L569.75 418.30M567.15 423.24L569.75 423.24" stroke="#383838" stroke-width="1.5" fill="none"/><rect x="604.95" y="404.64" width="18.0" height="36.06" fill="#fff" stroke="#383838" stroke-width="1.5"/><path d="M613.95 400.08L613.95 409.19M612.65 400.08L615.25 400.08M612.65 409.19L615.25 409.19" stroke="#383838" stroke-width="1.5" fill="none"/><rect x="650.45" y="346.27" width="18.0" height="94.43" fill="#fff" stroke="#383838" stroke-width="1.5"/><path d="M659.45 335.55L659.45 357.00M658.15 335.55L660.75 335.55M658.15 357.00L660.75 357.00" stroke="#383838" stroke-width="1.5" fill="none"/><path d="M522.10 418.25L522.10 424.95M519.06 420.18L525.14 423.02M519.06 423.02L525.14 420.18" stroke="#151515" stroke-width="1.35" fill="none" stroke-linecap="round"/><circle cx="522.1" cy="421.6" r="1.2" fill="#151515"/><path d="M565.00 404.05L565.00 410.75M561.96 405.98L568.04 408.82M561.96 408.82L568.04 405.98" stroke="#151515" stroke-width="1.35" fill="none" stroke-linecap="round"/><circle cx="565" cy="407.4" r="1.2" fill="#151515"/><path d="M611.60 389.05L611.60 395.75M608.56 390.98L614.64 393.82M608.56 393.82L614.64 390.98" stroke="#151515" stroke-width="1.35" fill="none" stroke-linecap="round"/><circle cx="611.6" cy="392.4" r="1.2" fill="#151515"/><path d="M500.2 326.82L500.2 440.7L682.4 440.7M500.2 421.72L503.2 421.72M500.2 402.74L503.2 402.74M500.2 383.76L503.2 383.76M500.2 364.78L503.2 364.78M500.2 345.80L503.2 345.80M500.2 326.82L503.2 326.82M545.70 440.7L545.70 436.9M591.20 440.7L591.20 436.9M636.70 440.7L636.70 436.9M682.20 440.7L682.20 436.9" stroke="#383838" stroke-width="1.5" fill="none"/><text x="522.95" y="462.7" class="cl" text-anchor="middle">4</text><text x="568.45" y="462.7" class="cl" text-anchor="middle">5</text><text x="613.95" y="462.7" class="cl" text-anchor="middle">6</text><text x="659.45" y="462.7" class="cl" text-anchor="middle">7</text><text x="585.9" y="470.3" class="ph" textLength="12" lengthAdjust="spacingAndGlyphs">pH</text><text x="539.1" y="336.3" class="tt" textLength="79.2" lengthAdjust="spacingAndGlyphs">Bufo gargarizans</text><g transform="translate(473.2 430.90) rotate(-90)"><text x="0.00" y="0" class="yl" textLength="29.00" lengthAdjust="spacingAndGlyphs">Ratio</text><text x="30.90" y="0" class="yl" textLength="10.50" lengthAdjust="spacingAndGlyphs">of</text><text x="44.00" y="0" class="yl" textLength="6.80" lengthAdjust="spacingAndGlyphs">L</text><text x="52.90" y="0" class="yl" textLength="5.50" lengthAdjust="spacingAndGlyphs">C</text><text x="60.50" y="0" class="sub" textLength="7.80" lengthAdjust="spacingAndGlyphs">50</text><text x="68.40" y="0" class="yl" textLength="18.50" lengthAdjust="spacingAndGlyphs">/EC</text><text x="88.10" y="0" class="sub" textLength="7.20" lengthAdjust="spacingAndGlyphs">50</text></g>
</svg>
</body></html>
